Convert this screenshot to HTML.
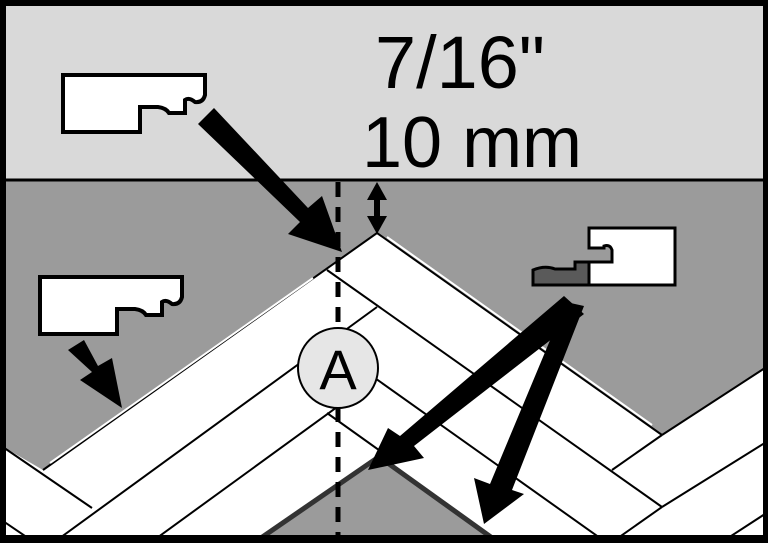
<!DOCTYPE html>
<html><head><meta charset="utf-8"><style>
html,body{margin:0;padding:0;background:#fff}
svg{display:block}
</style></head><body>
<svg width="768" height="543" viewBox="0 0 768 543" xmlns="http://www.w3.org/2000/svg">
<defs><clipPath id="c"><rect x="6" y="6" width="757" height="529"/></clipPath></defs>
<rect x="0" y="0" width="768" height="543" fill="#000"/>
<rect x="6" y="6" width="757" height="529" fill="#d9d9d9"/>
<g clip-path="url(#c)">
<rect x="0" y="180" width="768" height="363" fill="#fff"/>
<polygon points="0,180 768,180 768,366 662,435 377,233 43,470 0,445" fill="#9b9b9b"/>
<polygon points="255,543 378,457 500,543" fill="#9b9b9b"/>
<g stroke="#000" stroke-width="2" fill="none">
<line x1="377" y1="233" x2="43" y2="470"/>
<line x1="377" y1="233" x2="662" y2="435"/>
<line x1="662" y1="435" x2="768" y2="366"/>
<line x1="377" y1="307" x2="53" y2="543"/>
<line x1="377" y1="378" x2="150" y2="543"/>
<line x1="327" y1="270" x2="662" y2="507"/>
<line x1="365" y1="371" x2="600" y2="538"/>
<line x1="327" y1="413" x2="383" y2="453"/>
<line x1="0" y1="445" x2="92" y2="508"/>
<line x1="0" y1="519" x2="28" y2="538"/>
<line x1="612" y1="470" x2="662" y2="435"/>
<line x1="662" y1="507" x2="768" y2="441"/>
<line x1="662" y1="507" x2="618" y2="538"/>
<line x1="728" y1="538" x2="768" y2="512"/>
<line x1="0" y1="180" x2="768" y2="180" stroke-width="3"/>
</g>
<line x1="313" y1="278" x2="50" y2="463" stroke="#fff" stroke-width="2"/>
<line x1="387" y1="237" x2="652" y2="425" stroke="#fff" stroke-width="2"/>
<line x1="258" y1="540" x2="380" y2="456" stroke="#333" stroke-width="5"/>
<line x1="378" y1="456" x2="495" y2="540" stroke="#333" stroke-width="5"/>
<line x1="338" y1="182" x2="338" y2="540" stroke="#000" stroke-width="5" stroke-dasharray="15,10"/>
<circle cx="338" cy="368" r="40" fill="#e6e6e6" stroke="#000" stroke-width="2"/>
<text x="338" y="389" font-family="Liberation Sans, sans-serif" font-size="56" text-anchor="middle" fill="#000">A</text>
<line x1="377" y1="195" x2="377" y2="221" stroke="#000" stroke-width="6"/>
<polygon points="377,182 367,200 387,200" fill="#000"/>
<polygon points="377,234 367,216 387,216" fill="#000"/>
<text x="375" y="88" font-family="Liberation Sans, sans-serif" font-size="74" textLength="170" lengthAdjust="spacingAndGlyphs" fill="#000">7/16"</text>
<text x="362" y="167" font-family="Liberation Sans, sans-serif" font-size="72" textLength="220" lengthAdjust="spacingAndGlyphs" fill="#000">10 mm</text>
<path transform="translate(63,75)" d="M0,0 H142 V20 Q140,28 132,27 Q126,22 122,25 V38 H106 Q103,33 95,32 H77 V57 H0 Z" fill="#fff" stroke="#000" stroke-width="4"/>
<path transform="translate(40,277)" d="M0,0 H142 V20 Q140,28 132,27 Q126,22 122,25 V38 H106 Q103,33 95,32 H77 V57 H0 Z" fill="#fff" stroke="#000" stroke-width="4"/>
<path d="M589,228 H675 V285 H589 V262 H612 V250 Q610,244 604,246 V248 H589 Z" fill="#fff" stroke="#000" stroke-width="3"/>
<path d="M533,270 Q545,265 555,269 H575 V262 H589 V285 H533 Z" fill="#5a5a5a" stroke="#000" stroke-width="3"/>
<g fill="#000">
<polygon points="198,124 214,108 308,208 322,196 342,252 288,234 300,222"/>
<polygon points="68,350 84,340 98,366 112,358 122,408 80,380 92,372"/>
<polygon points="564,296 584,314 414,446 424,458 368,470 388,428 400,436"/>
<polygon points="566,302 584,306 512,490 524,494 484,524 474,478 490,484"/>
</g>
</g>
</svg>
</body></html>
